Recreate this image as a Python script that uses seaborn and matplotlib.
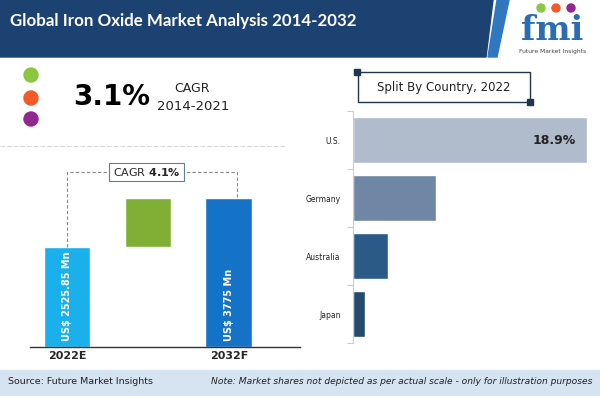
import numpy as np
import pandas as pd
import matplotlib.pyplot as plt
import matplotlib.patches as mpatches
import seaborn as sns

# dados do grafico
anos = ["2022E", "2032F"]
valores_mn = [2525.85, 3775]
cagr_hist = "3.1%"
periodo_hist = "2014-2021"
cagr_prev = "4.1%"
paises = ["U.S.", "Germany", "Australia", "Japan"]
participacao = [18.9, 6.7, 2.8, 1.0]

cores_anos = ["#1ab0ec", "#1573c7"]
cor_delta = "#7faf35"
cores_paises = ["#b0bccc", "#6f86a4", "#2b5a87", "#244a6e"]

sns.set_style("white")
plt.rcParams['font.family'] = ['DejaVu Sans']

W, H = 600, 396
fig = plt.figure(figsize=(6, 3.96), dpi=100)


def caixa(x0, y0, x1, y1):
    """converte pixels (topo-esquerda) para fracao da figura"""
    return [x0 / W, 1 - y1 / H, (x1 - x0) / W, (y1 - y0) / H]


# camada de fundo em coordenadas de pixel
deco = fig.add_axes([0, 0, 1, 1], zorder=0)
deco.set_xlim(0, W)
deco.set_ylim(H, 0)
deco.axis('off')

# cabecalho
deco.add_patch(mpatches.Polygon([(0, 0), (493, 0), (486, 57), (0, 57)], color="#1c4272"))
deco.add_patch(mpatches.Polygon([(497, 0), (509, 0), (497, 57), (488, 57)], color="#2f78c0"))
deco.text(10, 21, "Global Iron Oxide Market Analysis 2014-2032", color="white",
          fontsize=12.2, fontweight='bold', family=['Lato', 'DejaVu Sans'], va='center')
# logo fmi
for cx, c in zip([541, 556, 571], ["#8cc63f", "#f15a29", "#92278f"]):
    deco.add_patch(mpatches.Circle((cx, 8), 4, color=c))
deco.text(552, 31, "fmi", color="#2a6db3", fontsize=24, fontweight='bold',
          family=['DejaVu Serif'], ha='center', va='center')
deco.text(553, 51, "Future Market Insights", color="#444444", fontsize=4.3,
          ha='center', va='center')

# bolinhas e CAGR historico
for cy, c in zip([75, 98, 119], ["#8cc63f", "#f15a29", "#92278f"]):
    deco.add_patch(mpatches.Circle((31, cy), 7, color=c))
deco.text(112, 97, cagr_hist, fontsize=20, fontweight='bold', ha='center', va='center',
          color="black")
deco.text(192, 88, "CAGR", fontsize=9, ha='center', va='center', color="#222222")
deco.text(193, 107, periodo_hist, fontsize=9.5, ha='center', va='center', color="#222222")
deco.plot([0, 285], [146, 146], ls=(0, (4, 2)), color="#d8d8d8", lw=0.8)

# caixa "Split By Country"
deco.add_patch(mpatches.Rectangle((358, 72), 172, 30, fill=False, ec="#1f3550", lw=1))
deco.add_patch(mpatches.Rectangle((354, 69), 6, 6, color="#1f3550"))
deco.add_patch(mpatches.Rectangle((527, 99), 6, 6, color="#1f3550"))
deco.text(444, 87, "Split By Country, 2022", fontsize=8.5, ha='center', va='center',
          color="#222222")

# rodape
deco.add_patch(mpatches.Rectangle((0, 370), W, 26, color="#d6e3f1"))
deco.text(8, 382, "Source: Future Market Insights", fontsize=6.8, va='center', color="#222222")
deco.text(592, 382, "Note: Market shares not depicted as per actual scale - only for illustration purposes",
          fontsize=6.6, style='italic', va='center', ha='right', color="#222222")

# grafico de barras da esquerda (valor de mercado)
ax1 = fig.add_axes(caixa(30, 150, 300, 347), zorder=2)
ax1.patch.set_alpha(0)
df_anos = pd.DataFrame({"ano": anos, "valor": valores_mn})
sns.barplot(data=df_anos, x="ano", y="valor", hue="ano", order=[anos[0], " ", anos[1]],
            palette=dict(zip(anos, cores_anos)), width=0.58, saturation=1,
            legend=False, ax=ax1)
ax1.bar(1, valores_mn[1] - valores_mn[0], bottom=valores_mn[0], width=0.58, color=cor_delta)
ax1.set_xlim(-0.457, 2.877)
ax1.set_ylim(0, 4990)
for pos, v in zip([0, 2], valores_mn):
    ax1.text(pos, 150, f"US$ {v:g} Mn", rotation=90, ha='center', va='bottom',
             color="white", fontsize=7, fontweight='bold')
topo = 4434
ax1.plot([0, 0, 2.1, 2.1], [valores_mn[0], topo, topo, valores_mn[1]],
         ls=(0, (3, 2)), color="#8a8a8a", lw=0.8, zorder=1)
ax1.text(0.98, topo, f"CAGR $\\bf{{{cagr_prev.replace('%', chr(92) + '%')}}}$", ha='center',
         va='center', fontsize=8, zorder=3,
         bbox=dict(boxstyle="square,pad=0.3", fc="white", ec="#5f7f94", lw=0.8))
ax1.set_xticks([0, 2])
ax1.set_xticklabels(anos, fontweight='bold', fontsize=8)
ax1.set_yticks([])
ax1.set_xlabel('')
ax1.set_ylabel('')
ax1.tick_params(axis='x', length=0, pad=3)
for s in ['top', 'right', 'left']:
    ax1.spines[s].set_visible(False)
ax1.spines['bottom'].set_color("#333333")
ax1.spines['bottom'].set_linewidth(1)

# grafico de barras da direita (participacao por pais)
ax2 = fig.add_axes(caixa(353, 111, 588, 343), zorder=2)
ax2.patch.set_alpha(0)
df_paises = pd.DataFrame({"pais": paises, "share": participacao})
sns.barplot(data=df_paises, x="share", y="pais", hue="pais", palette=cores_paises,
            width=0.78, saturation=1, legend=False, orient='h', ax=ax2)
ax2.set_xlim(0, 19)
ax2.set_ylim(3.5, -0.5)
ax2.set_xlabel('')
ax2.set_ylabel('')
ax2.set_xticks([])
ax2.set_yticks(np.arange(-0.5, 4, 1), minor=True)
ax2.tick_params(axis='y', which='major', length=0, pad=9, labelsize=5.5, labelcolor="#222222")
ax2.tick_params(axis='y', which='minor', length=4, color="#cccccc", width=0.8, left=True)
for s in ['top', 'right', 'bottom']:
    ax2.spines[s].set_visible(False)
ax2.spines['left'].set_color("#cccccc")
ax2.spines['left'].set_linewidth(0.8)
ax2.annotate(f"{participacao[0]}%", (participacao[0], 0), xytext=(-8, 0),
             textcoords='offset points', ha='right', va='center', fontsize=9,
             fontweight='bold', color="#222222")

fig.savefig("out.png", dpi=100)
